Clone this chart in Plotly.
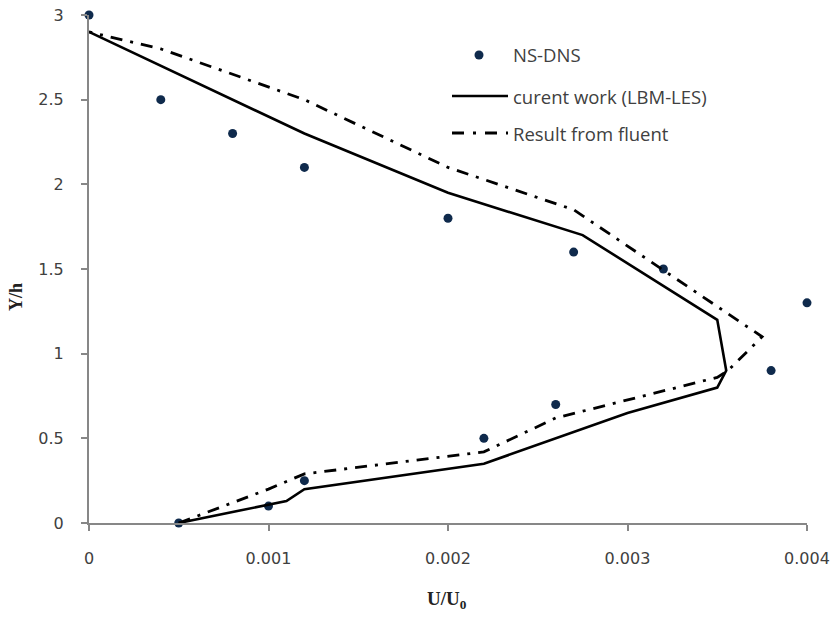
import plotly.graph_objects as go

# Velocity profiles U/U0 against normalised height Y/h
dns_u = [0, 0.0004, 0.0008, 0.0012, 0.002, 0.0027, 0.0032, 0.004, 0.0038, 0.0026, 0.0022, 0.0012, 0.001, 0.0005]
dns_y = [3, 2.5, 2.3, 2.1, 1.8, 1.6, 1.5, 1.3, 0.9, 0.7, 0.5, 0.25, 0.1, 0]

lbm_u = [0.0005, 0.0011, 0.0012, 0.0022, 0.003, 0.0035, 0.00355, 0.0035, 0.00275, 0.002, 0.0012, 0]
lbm_y = [0, 0.13, 0.2, 0.35, 0.65, 0.8, 0.9, 1.2, 1.7, 1.95, 2.3, 2.9]

fluent_u = [0.0005, 0.001, 0.0012, 0.0022, 0.0026, 0.0035, 0.00356, 0.00375, 0.0027, 0.002, 0.0012, 0.0004, 0]
fluent_y = [0, 0.2, 0.29, 0.42, 0.62, 0.86, 0.9, 1.1, 1.85, 2.1, 2.5, 2.8, 2.9]

x_ticks = [0, 0.001, 0.002, 0.003, 0.004]
x_tick_labels = ["0", "0.001", "0.002", "0.003", "0.004"]
y_ticks = [0, 0.5, 1, 1.5, 2, 2.5, 3]
y_tick_labels = ["0", "0.5", "1", "1.5", "2", "2.5", "3"]

series_names = ["NS-DNS", "curent work (LBM-LES)", "Result from fluent"]

W, H = 834, 617
ML, MR, MT, MB = 89, 27, 15, 94
PW, PH = W - ML - MR, H - MT - MB

MARKER_COLOR = "#0f2a4c"
LINE_COLOR = "#000000"
AXIS_COLOR = "#878787"
TEXT_COLOR = "#404040"
DASHDOT = "12px,8px,3px,8px"


def px_x(p):
    return (p - ML) / PW


def px_y(p):
    return (H - MB - p) / PH


fig = go.Figure()

fig.add_trace(go.Scatter(
    x=dns_u, y=dns_y, mode="markers", name=series_names[0],
    marker=dict(symbol="circle", size=9, color=MARKER_COLOR),
    cliponaxis=False, showlegend=False,
))
fig.add_trace(go.Scatter(
    x=lbm_u, y=lbm_y, mode="lines", name=series_names[1],
    line=dict(color=LINE_COLOR, width=2.6),
    cliponaxis=False, showlegend=False,
))
fig.add_trace(go.Scatter(
    x=fluent_u, y=fluent_y, mode="lines", name=series_names[2],
    line=dict(color=LINE_COLOR, width=2.8, dash=DASHDOT),
    cliponaxis=False, showlegend=False,
))

# Hand-laid legend: sample marks on the left, labels to the right
shapes = []
annotations = []
leg_rows = [55, 96, 133]
sample_x0, sample_x1, text_x = 452, 508, 511
mx, r = 479, 4.5
shapes.append(dict(
    type="circle", xref="paper", yref="paper",
    x0=px_x(mx - r), x1=px_x(mx + r), y0=px_y(leg_rows[0] + r), y1=px_y(leg_rows[0] - r),
    fillcolor=MARKER_COLOR, line=dict(width=0),
))
shapes.append(dict(
    type="line", xref="paper", yref="paper",
    x0=px_x(sample_x0), x1=px_x(sample_x1), y0=px_y(leg_rows[1]), y1=px_y(leg_rows[1]),
    line=dict(color=LINE_COLOR, width=2.6),
))
shapes.append(dict(
    type="line", xref="paper", yref="paper",
    x0=px_x(sample_x0), x1=px_x(sample_x1), y0=px_y(leg_rows[2]), y1=px_y(leg_rows[2]),
    line=dict(color=LINE_COLOR, width=2.8, dash="12px,9px,3px,9px"),
))
for name, row in zip(series_names, leg_rows):
    annotations.append(dict(
        text=name, xref="paper", yref="paper", x=px_x(text_x), y=px_y(row),
        xanchor="left", yanchor="middle", showarrow=False,
        font=dict(family="Open Sans", size=18.5, color=TEXT_COLOR),
    ))

# Axis titles
annotations.append(dict(
    text="<b>U/U<sub>0</sub></b>", xref="paper", yref="paper",
    x=px_x(447), y=px_y(600), xanchor="center", yanchor="middle", showarrow=False,
    font=dict(family="Liberation Serif", size=19, color="#222222"),
))
annotations.append(dict(
    text="<b>Y/h</b>", xref="paper", yref="paper",
    x=px_x(16), y=px_y(297), xanchor="center", yanchor="middle", showarrow=False,
    textangle=-90, font=dict(family="Liberation Serif", size=18, color="#222222"),
))

axis_common = dict(
    showgrid=False, zeroline=False, showline=True, linecolor=AXIS_COLOR, linewidth=2,
    ticks="outside", ticklen=6, tickwidth=1.5, tickcolor=AXIS_COLOR, automargin=False,
    tickfont=dict(family="DejaVu Sans", size=16, color=TEXT_COLOR),
)

fig.update_layout(
    width=W, height=H,
    margin=dict(l=ML, r=MR, t=MT, b=MB, pad=0, autoexpand=False),
    paper_bgcolor="white", plot_bgcolor="white",
    showlegend=False,
    xaxis=dict(range=[0, 0.004], tickvals=x_ticks, ticktext=x_tick_labels,
               ticklabelstandoff=14, **axis_common),
    yaxis=dict(range=[0, 3], tickvals=y_ticks, ticktext=y_tick_labels,
               ticklabelstandoff=14, **axis_common),
    shapes=shapes, annotations=annotations,
)

fig.write_html("out.html")
